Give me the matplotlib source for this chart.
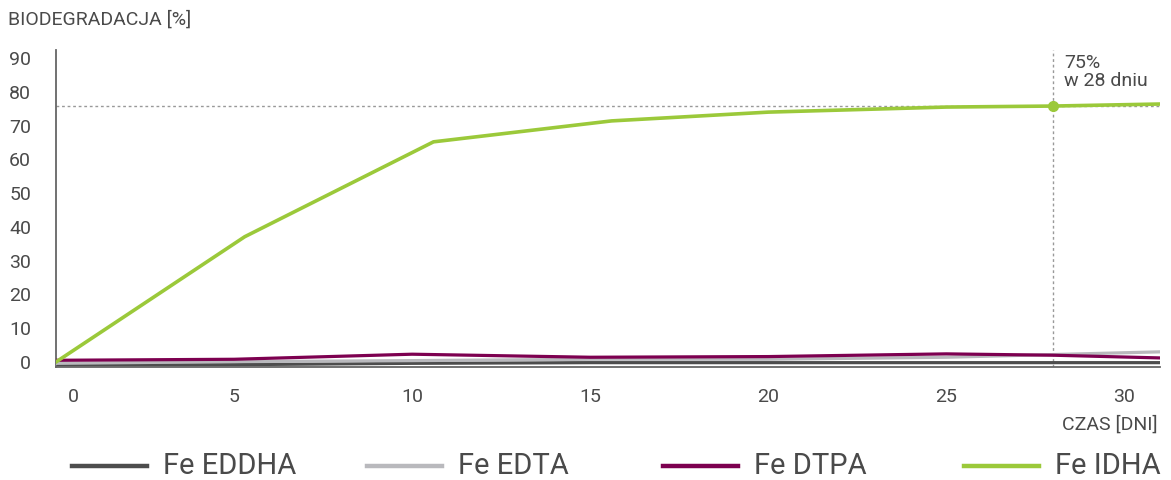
import matplotlib.pyplot as plt
import matplotlib.transforms as mtransforms
from matplotlib.lines import Line2D

plt.rcParams["font.family"] = ["Roboto", "DejaVu Sans"]

# days and values
days = [0, 5, 10, 15, 20, 25, 28, 31]
idha_days = [0, 5.3, 10.6, 15.6, 20, 25, 28, 31]

eddha = [-0.9, -0.8, -0.4, -0.2, -0.2, -0.2, -0.2, -0.2]
edta = [-0.4, 0.1, 0.4, 0.8, 0.8, 1.4, 2.2, 3.0]
dtpa = [0.5, 0.8, 2.3, 1.4, 1.6, 2.4, 2.0, 1.2]
idha = [0.0, 37.1, 65.2, 71.4, 74.0, 75.5, 75.8, 76.4]

mark_day = 28
mark_value = 75.8

series_names = ["Fe EDDHA", "Fe EDTA", "Fe DTPA", "Fe IDHA"]
series_colors = ["#4d4d4d", "#b9b9bd", "#7d0050", "#9bc93a"]

xticks = [0, 5, 10, 15, 20, 25, 30]
yticks = [0, 10, 20, 30, 40, 50, 60, 70, 80, 90]

text_color = "#4a4a4a"
dot_color = "#999999"

fig = plt.figure(figsize=(11.71, 4.80), dpi=100)
ax = fig.add_axes([56 / 1171, 1 - 366.7 / 480, (1160 - 56) / 1171, (366.7 - 50) / 480])

ax.set_xlim(0, 31)
ax.set_ylim(-1.4, 92.4)

# dotted guides for the 28-day value
ax.axhline(mark_value, color=dot_color, lw=1, ls=(0, (2, 2)), zorder=1)
ax.axvline(mark_day, color=dot_color, lw=1, ls=(0, (2, 2)), zorder=1)

ax.plot(days, eddha, color=series_colors[0], lw=2.3, zorder=2)
ax.plot(days, edta, color=series_colors[1], lw=2.3, zorder=3)
ax.plot(days, dtpa, color=series_colors[2], lw=2.3, zorder=4)
ax.plot(idha_days, idha, color=series_colors[3], lw=2.6, zorder=5)
ax.plot([mark_day], [mark_value], "o", color=series_colors[3], ms=7, zorder=6)

ax.text(28.3, 86.0, "75%\nw 28 dniu", color=text_color, fontsize=14,
        va="center", ha="left", linespacing=1.0)

for side in ["top", "right"]:
    ax.spines[side].set_visible(False)
for side in ["left", "bottom"]:
    ax.spines[side].set_color("#666666")
    ax.spines[side].set_linewidth(1.3)

ax.set_xticks(xticks)
ax.set_xticklabels([str(t) for t in xticks])
ax.set_yticks(yticks)
ax.set_yticklabels([str(t) for t in yticks])
ax.tick_params(axis="both", length=0, labelsize=14, colors=text_color)
ax.tick_params(axis="y", pad=18)
ax.tick_params(axis="x", pad=15)

# push the "0" label off the spine like the original
zero_label = ax.get_xticklabels()[0]
shift = mtransforms.ScaledTranslation(17 / 100, 0, fig.dpi_scale_trans)
zero_label.set_transform(zero_label.get_transform() + shift)

fig.text(8 / 1171, 1 - 20 / 480, "BIODEGRADACJA [%]", color=text_color,
         fontsize=14, ha="left", va="center")
fig.text(1158 / 1171, 1 - 425 / 480, "CZAS [DNI]", color=text_color,
         fontsize=14, ha="right", va="center")

# legend row
legend_x = [72, 367, 663, 964]
for x0, name, color in zip(legend_x, series_names, series_colors):
    y = 1 - 466 / 480
    fig.add_artist(Line2D([x0 / 1171, (x0 + 75) / 1171], [y, y],
                          color=color, lw=3.2, transform=fig.transFigure))
    fig.text((x0 + 91) / 1171, y, name, color=text_color, fontsize=21,
             ha="left", va="center")

fig.savefig("out.png", dpi=100)
